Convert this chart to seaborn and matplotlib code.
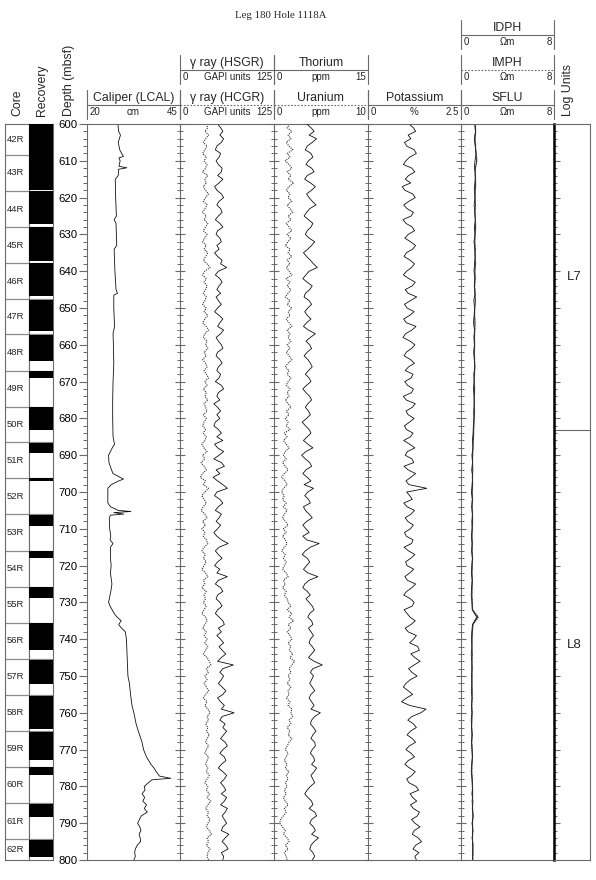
import numpy as np
import matplotlib
matplotlib.use("Agg")
import matplotlib.pyplot as plt
from matplotlib.lines import Line2D
from matplotlib.ticker import MultipleLocator
import seaborn as sns

# ---------------- data ----------------
core_names = ['42R', '43R', '44R', '45R', '46R', '47R', '48R', '49R', '50R', '51R', '52R',
              '53R', '54R', '55R', '56R', '57R', '58R', '59R', '60R', '61R', '62R']
core_tops = [598.6, 608.4, 618.2, 628.0, 637.8, 647.6, 657.2, 667.0, 676.8, 686.5, 696.3,
             706.1, 716.0, 725.7, 735.5, 745.3, 755.1, 764.9, 774.6, 784.6, 794.4]
core_bottoms = core_tops[1:] + [804.2]
rec_tops = [598.6, 608.4, 618.3, 628.1, 637.9, 647.7, 657.3, 667.1, 676.9, 686.6, 696.3,
            706.3, 716.1, 725.8, 735.6, 745.6, 755.5, 765.2, 774.8, 784.7, 794.5]
rec_bottoms = [608.4, 618.0, 627.3, 637.1, 646.8, 656.3, 664.4, 668.9, 683.2, 689.5, 697.1,
               709.2, 717.8, 728.9, 742.9, 752.2, 764.5, 772.8, 777.0, 788.4, 799.3]

unit_names = ['L7', 'L8']
unit_bounds = [600.0, 683.2, 800.0]

# caliper (cm), irregular depth points
cal_depth = [600, 602, 603, 605, 607, 608, 608.8, 609.2, 610, 611.5, 611.9, 612.3, 614, 615,
             620, 625, 626, 627, 630, 633, 634, 640, 645, 646, 646.5, 650, 655, 657, 660,
             665, 670, 675, 680, 685, 687, 688, 690, 692, 694, 695, 696.5, 697, 698, 699,
             700, 703, 704, 705, 705.3, 705.6, 706, 706.3, 707, 710, 712, 713, 714, 715,
             718, 720, 722, 725, 727, 730, 731, 733, 734, 735, 736, 737, 738, 740, 745,
             750, 752, 755, 758, 760, 763, 765, 768, 770, 772, 774, 775, 776, 777.2, 777.8,
             778.2, 779, 780, 781, 782, 783, 784, 785, 786, 787, 788, 789, 790, 791, 792,
             793, 794, 795, 796, 797, 798, 799, 800]
cal_val = [28.3, 28.5, 29.0, 28.4, 28.8, 29.3, 29.8, 28.6, 28.9, 28.6, 30.7, 28.5, 28.4, 27.6,
           27.7, 27.9, 27.3, 27.8, 27.9, 28.0, 27.3, 27.5, 27.8, 28.2, 27.2, 27.2, 27.4, 27.0,
           27.1, 27.2, 27.0, 26.9, 26.9, 27.0, 27.4, 26.8, 25.8, 25.9, 26.6, 27.0, 29.8, 28.5,
           26.5, 25.6, 25.6, 25.6, 26.3, 28.4, 31.8, 27.2, 29.9, 26.3, 26.0, 26.1, 26.4, 26.2,
           27.0, 26.3, 26.3, 26.5, 26.3, 26.7, 26.4, 25.8, 26.2, 27.3, 28.1, 29.2, 28.5, 29.3,
           30.3, 30.6, 30.8, 31.0, 31.4, 31.7, 32.1, 32.6, 33.2, 33.8, 34.8, 35.2, 36.0, 37.2,
           38.0, 38.6, 39.5, 42.5, 37.5, 36.5, 35.4, 35.6, 34.8, 35.5, 35.0, 36.0, 35.4, 36.2,
           34.6, 34.1, 33.6, 34.2, 34.5, 34.0, 34.3, 34.4, 33.5, 33.0, 32.8, 33.0, 32.6]

# 1 m sampled logs, 600 ... 800 mbsf
depth_1m = list(range(600, 801))
hsgr = [50, 54, 57, 53, 58, 55, 49, 47, 54, 52,
        48, 51, 56, 55, 50, 57, 52, 46, 49, 55,
        58, 52, 49, 54, 56, 51, 47, 53, 57, 50,
        48, 53, 55, 49, 52, 46, 50, 56, 54, 62,
        51, 47, 53, 56, 52, 49, 54, 48, 51, 55,
        50, 46, 52, 57, 53, 50, 58, 54, 48, 51,
        55, 57, 50, 48, 53, 56, 51, 49, 54, 52,
        47, 55, 58, 51, 49, 53, 45, 50, 54, 49,
        53, 47, 45, 51, 55, 49, 57, 46, 50, 58,
        52, 45, 55, 59, 48, 53, 44, 50, 57, 63,
        49, 46, 53, 57, 51, 47, 55, 52, 48, 54,
        50, 45, 49, 55, 64, 52, 47, 51, 56, 50,
        46, 53, 49, 63, 51, 47, 54, 57, 50, 48,
        53, 56, 50, 47, 52, 57, 59, 51, 55, 49,
        54, 58, 52, 56, 61, 55, 50, 71, 57, 53,
        58, 55, 51, 56, 61, 57, 50, 54, 59, 55,
        72, 56, 53, 60, 57, 62, 58, 54, 60, 63,
        57, 53, 59, 61, 55, 51, 57, 62, 59, 54,
        58, 61, 55, 62, 59, 54, 63, 60, 56, 59,
        62, 57, 55, 65, 60, 56, 61, 64, 55, 58,
        57]
hcgr = [35, 37, 33, 38, 34, 31, 36, 33, 30, 35,
        32, 36, 34, 30, 37, 33, 35, 31, 34, 38,
        34, 31, 36, 33, 30, 35, 32, 37, 34, 31,
        36, 33, 30, 35, 32, 37, 34, 31, 36, 40,
        33, 30, 35, 32, 36, 34, 31, 35, 33, 30,
        35, 32, 37, 33, 30, 35, 38, 33, 31, 36,
        34, 37, 32, 35, 30, 34, 36, 32, 35, 38,
        33, 36, 31, 35, 33, 37, 32, 34, 36, 31,
        35, 32, 30, 34, 31, 35, 33, 29, 32, 36,
        30, 33, 28, 32, 35, 30, 27, 34, 31, 38,
        33, 29, 32, 35, 31, 28, 33, 36, 30, 34,
        29, 33, 31, 35, 37, 32, 29, 34, 31, 35,
        32, 29, 34, 37, 31, 33, 29, 35, 32, 34,
        31, 35, 32, 29, 34, 36, 33, 30, 35, 32,
        36, 33, 37, 34, 31, 36, 39, 41, 35, 38,
        33, 36, 32, 35, 38, 34, 31, 36, 33, 37,
        40, 36, 38, 34, 37, 35, 39, 36, 34, 38,
        35, 33, 38, 36, 34, 37, 35, 39, 36, 33,
        37, 35, 39, 36, 41, 37, 34, 38, 36, 40,
        37, 35, 39, 42, 36, 38, 35, 40, 37, 36,
        38]
thorium = [5.2, 5.9, 6.4, 5.6, 6.8, 6.1, 5.3, 5.0, 5.9, 6.2,
           5.5, 5.1, 6.0, 6.4, 5.3, 4.9, 5.8, 6.6, 6.0, 5.2,
           5.6, 6.1, 6.7, 5.7, 5.2, 4.8, 5.5, 6.2, 5.9, 5.3,
           5.0, 5.6, 6.5, 6.0, 5.4, 4.7, 5.2, 5.8, 6.3, 6.9,
           5.6, 5.1, 4.6, 5.3, 6.1, 5.7, 5.0, 4.8, 5.6, 6.0,
           5.4, 4.9, 5.3, 5.9, 5.2, 4.7, 5.5, 6.6, 5.8, 5.1,
           5.7, 6.0, 5.3, 4.8, 5.4, 5.8, 6.1, 5.5, 5.0, 5.6,
           5.9, 5.2, 4.6, 5.1, 5.7, 6.0, 5.4, 5.0, 5.5, 5.8,
           5.2, 4.5, 5.0, 5.6, 5.9, 5.3, 4.7, 5.4, 6.2, 5.1,
           4.4, 5.0, 5.7, 6.0, 5.1, 4.6, 5.3, 5.9, 4.8, 6.3,
           5.4, 4.9, 5.5, 5.8, 4.7, 5.0, 5.6, 6.1, 5.2, 4.6,
           5.1, 5.6, 4.6, 5.2, 7.2, 5.8, 5.0, 4.5, 5.3, 5.7,
           5.2, 4.7, 5.4, 7.0, 5.6, 4.9, 4.6, 5.3, 5.8, 5.1,
           5.6, 6.1, 6.4, 5.7, 5.4, 6.0, 6.2, 5.5, 5.9, 6.3,
           5.8, 5.6, 6.1, 6.5, 6.0, 5.5, 6.4, 7.7, 6.2, 5.8,
           6.3, 6.0, 5.7, 6.1, 6.5, 5.9, 5.6, 6.0, 6.4, 5.9,
           7.4, 6.5, 6.0, 5.8, 6.3, 6.7, 6.2, 5.9, 6.5, 6.6,
           6.1, 5.8, 6.3, 6.5, 6.0, 6.8, 6.4, 5.9, 6.2, 6.5,
           5.8, 5.3, 4.9, 5.4, 6.0, 6.2, 5.6, 6.5, 6.8, 6.0,
           5.7, 6.3, 6.6, 6.0, 7.1, 6.4, 5.9, 5.7, 6.2, 6.5,
           6.1]
uranium = [1.7, 1.4, 1.9, 1.5, 1.8, 1.3, 1.6, 2.0, 1.4, 1.7,
           1.2, 1.6, 1.9, 1.4, 1.8, 1.5, 2.1, 1.6, 1.3, 1.7,
           1.5, 1.9, 1.4, 1.7, 2.0, 1.5, 1.8, 1.3, 1.6, 1.9,
           1.4, 1.8, 1.5, 1.2, 1.7, 1.5, 1.9, 1.4, 1.7, 1.3,
           1.6, 1.9, 1.3, 1.7, 1.4, 1.8, 1.5, 1.2, 1.7, 1.4,
           1.9, 1.5, 1.7, 1.3, 1.6, 1.9, 1.4, 1.7, 1.5, 1.8,
           1.4, 1.7, 1.3, 1.6, 1.9, 1.5, 1.2, 1.6, 1.4, 1.8,
           1.5, 1.3, 1.7, 1.4, 1.6, 1.2, 1.5, 1.8, 1.3, 1.6,
           1.2, 1.5, 1.3, 1.7, 1.1, 1.4, 1.0, 1.3, 1.6, 1.2,
           1.0, 1.3, 0.9, 1.2, 1.5, 1.1, 0.8, 1.2, 1.4, 1.0,
           0.8, 1.1, 0.9, 1.3, 1.0, 1.4, 1.1, 0.9, 1.2, 1.5,
           1.0, 1.3, 0.9, 1.2, 1.4, 1.1, 0.8, 1.2, 1.0, 1.3,
           1.1, 0.9, 1.3, 1.5, 1.0, 1.2, 0.9, 1.3, 1.1, 1.4,
           1.5, 1.8, 1.4, 1.9, 1.6, 2.1, 1.5, 1.8, 1.4, 1.7,
           1.9, 1.5, 1.8, 1.6, 2.0, 1.7, 2.2, 1.9, 1.6, 1.8,
           1.5, 1.7, 1.4, 1.8, 1.5, 1.6, 1.3, 1.7, 1.5, 1.9,
           1.8, 2.0, 1.6, 1.8, 1.4, 1.7, 1.5, 1.9, 1.6, 1.4,
           1.2, 1.5, 1.3, 1.1, 1.4, 1.2, 1.6, 1.3, 1.5, 1.2,
           1.4, 1.1, 1.3, 1.0, 1.2, 1.5, 1.1, 1.3, 1.0, 0.7,
           0.6, 0.9, 1.2, 1.0, 1.4, 1.6, 1.2, 1.5, 1.1, 1.3,
           1.4]
potassium = [1.10, 1.22, 1.28, 1.08, 1.15, 0.98, 1.04, 1.24, 1.30, 1.12,
             1.02, 0.95, 1.18, 1.26, 1.09, 1.00, 1.15, 0.92, 0.99, 1.20,
             1.27, 1.10, 0.96, 1.05, 1.22, 1.16, 0.94, 1.02, 1.19, 1.25,
             1.08, 0.99, 1.14, 1.28, 1.20, 1.03, 0.97, 1.13, 1.25, 1.17,
             1.04, 0.95, 1.10, 1.27, 1.19, 1.00, 1.08, 1.31, 1.14, 0.98,
             1.05, 1.24, 1.12, 0.96, 1.03, 1.29, 1.18, 1.01, 0.94, 1.13,
             1.26, 1.17, 1.03, 0.97, 1.14, 1.25, 1.09, 1.00, 1.21, 1.16,
             0.99, 1.06, 1.22, 1.17, 0.95, 1.03, 1.27, 1.19, 1.02, 1.08,
             1.24, 1.12, 0.98, 1.03, 1.21, 1.14, 0.96, 1.12, 1.26, 1.06,
             1.00, 1.18, 1.23, 0.97, 1.08, 1.28, 1.15, 1.02, 1.10, 1.58,
             1.04, 1.12, 1.19, 0.96, 1.05, 1.25, 1.16, 1.00, 1.07, 1.22,
             1.14, 0.98, 1.03, 1.21, 1.17, 0.97, 1.09, 1.26, 1.15, 1.01,
             1.05, 1.23, 1.12, 0.99, 1.06, 1.28, 1.18, 1.04, 0.96, 1.14,
             1.24, 1.19, 0.97, 1.05, 1.13, 1.27, 1.16, 1.00, 1.08, 1.30,
             1.22, 1.12, 1.34, 1.38, 1.15, 1.26, 1.40, 1.24, 1.09, 1.18,
             1.32, 1.14, 1.02, 0.95, 1.08, 1.20, 1.03, 0.90, 1.12, 1.56,
             1.42, 1.18, 1.07, 1.22, 1.30, 1.14, 1.05, 1.19, 1.28, 1.11,
             1.02, 1.16, 1.25, 1.08, 0.99, 1.12, 1.27, 1.18, 1.04, 1.10,
             1.29, 1.36, 1.13, 1.20, 1.31, 1.14, 1.22, 1.38, 1.33, 1.17,
             1.26, 1.40, 1.24, 1.19, 1.35, 1.44, 1.28, 1.21, 1.37, 1.26,
             1.30]

# resistivity, 2 m sampled, 600 ... 800 mbsf
depth_2m = list(range(600, 801, 2))
idph = [1.22, 1.25, 1.20, 1.24, 1.28, 1.35, 1.23, 1.21, 1.26, 1.22,
        1.20, 1.23, 1.19, 1.22, 1.25, 1.21, 1.18, 1.22, 1.20, 1.24,
        1.19, 1.21, 1.17, 1.20, 1.23, 1.18, 1.16, 1.20, 1.18, 1.15,
        1.17, 1.14, 1.16, 1.19, 1.15, 1.13, 1.16, 1.14, 1.12, 1.15,
        1.13, 1.10, 1.08, 1.05, 1.02, 1.00, 0.98, 1.01, 0.97, 0.99,
        0.96, 0.98, 0.95, 0.97, 0.99, 0.96, 0.94, 0.97, 0.95, 0.98,
        0.96, 0.94, 0.97, 0.95, 0.93, 0.96, 0.98, 1.45, 1.02, 0.97,
        0.95, 0.93, 0.96, 0.94, 0.92, 0.95, 0.93, 0.96, 0.94, 0.92,
        0.95, 0.93, 0.91, 0.94, 0.92, 0.95, 0.97, 0.94, 0.92, 0.95,
        0.97, 1.00, 0.96, 0.99, 1.02, 0.98, 1.01, 0.97, 1.00, 1.03,
        0.99]
imph = [1.25, 1.27, 1.22, 1.26, 1.31, 1.38, 1.25, 1.23, 1.28, 1.24,
        1.22, 1.25, 1.21, 1.24, 1.27, 1.23, 1.20, 1.24, 1.22, 1.26,
        1.21, 1.23, 1.19, 1.22, 1.25, 1.20, 1.18, 1.22, 1.20, 1.17,
        1.19, 1.16, 1.18, 1.21, 1.17, 1.15, 1.18, 1.16, 1.14, 1.17,
        1.15, 1.12, 1.10, 1.07, 1.04, 1.02, 1.00, 1.03, 0.99, 1.01,
        0.98, 1.00, 0.97, 0.99, 1.01, 0.98, 0.96, 0.99, 0.97, 1.00,
        0.98, 0.96, 0.99, 0.97, 0.95, 0.98, 1.00, 1.50, 1.05, 0.99,
        0.97, 0.95, 0.98, 0.96, 0.94, 0.97, 0.95, 0.98, 0.96, 0.94,
        0.97, 0.95, 0.93, 0.96, 0.94, 0.97, 0.99, 0.96, 0.94, 0.97,
        0.99, 1.02, 0.98, 1.01, 1.04, 1.00, 1.03, 0.99, 1.02, 1.05,
        1.01]
sflu = [1.18, 1.24, 1.15, 1.22, 1.30, 1.20, 1.16, 1.25, 1.19, 1.14,
        1.21, 1.13, 1.19, 1.24, 1.15, 1.20, 1.12, 1.18, 1.23, 1.16,
        1.12, 1.19, 1.14, 1.21, 1.10, 1.17, 1.13, 1.08, 1.16, 1.11,
        1.15, 1.09, 1.14, 1.18, 1.10, 1.13, 1.07, 1.12, 1.16, 1.09,
        1.11, 1.06, 1.04, 0.98, 1.03, 0.94, 0.99, 0.92, 1.00, 0.95,
        0.90, 0.97, 0.92, 0.99, 0.93, 0.96, 0.89, 0.95, 0.91, 0.98,
        0.93, 0.89, 0.96, 0.91, 0.88, 0.94, 0.97, 1.35, 0.99, 0.93,
        0.90, 0.95, 0.88, 0.93, 0.97, 0.90, 0.94, 0.89, 0.96, 0.91,
        0.94, 0.88, 0.92, 0.97, 0.90, 0.95, 0.99, 0.92, 0.88, 0.96,
        1.00, 0.94, 1.03, 0.97, 1.05, 0.95, 1.02, 0.96, 1.04, 0.99,
        1.02]

# header blocks: (track, row, title, lo, unit, hi, line style)
headers = [
    (0, 0, 'Caliper (LCAL)', '20', 'cm', '45', '-'),
    (1, 1, '\u03b3 ray (HSGR)', '0', 'GAPI units', '125', '-'),
    (1, 0, '\u03b3 ray (HCGR)', '0', 'GAPI units', '125', ':'),
    (2, 1, 'Thorium', '0', 'ppm', '15', '-'),
    (2, 0, 'Uranium', '0', 'ppm', '10', ':'),
    (3, 0, 'Potassium', '0', '%', '2.5', '-'),
    (4, 2, 'IDPH', '0', '\u03a9m', '8', '-'),
    (4, 1, 'IMPH', '0', '\u03a9m', '8', ':'),
    (4, 0, 'SFLU', '0', '\u03a9m', '8', '-'),
]

# ---------------- layout ----------------
sns.set_style("white")
plt.rcParams['font.family'] = ['Liberation Sans', 'DejaVu Sans']

W, H = 596, 880
TOP, BOT = 124, 860
GRID = '#6a6a6a'
edges = [87, 180, 274, 368, 461, 554]
row_y = [98, 63, 28]

fig = plt.figure(figsize=(W / 100, H / 100), dpi=100)


def fx(x):
    return x / W


def fy(y):
    return 1 - y / H


def px_rect(x0, x1, y0=TOP, y1=BOT):
    return [x0 / W, 1 - y1 / H, (x1 - x0) / W, (y1 - y0) / H]


def style_spines(ax, right=False):
    for s in ['left', 'top', 'bottom', 'right']:
        ax.spines[s].set_visible(True)
        ax.spines[s].set_color(GRID)
        ax.spines[s].set_linewidth(0.8)
    ax.spines['right'].set_visible(right)


def track(i):
    ax = fig.add_axes(px_rect(edges[i], edges[i + 1]))
    ax.set_facecolor('none')
    return ax


def finish(ax, xlim):
    ax.set_ylim(800, 600)
    ax.set_xlim(*xlim)
    ax.set_xticks([])
    ax.set_xlabel('')
    ax.set_ylabel('')
    ax.yaxis.set_major_locator(MultipleLocator(10))
    ax.yaxis.set_minor_locator(MultipleLocator(2))
    style_spines(ax)
    ax.tick_params(axis='y', which='major', direction='inout', length=7, width=0.8,
                   color=GRID, labelleft=False, left=True)
    ax.tick_params(axis='y', which='minor', direction='inout', length=4, width=0.7,
                   color=GRID, left=True)


solid = dict(color='#111111', lw=0.6)
dotted = dict(color='#333333', lw=0.8, linestyle=(0, (1, 1)))

# caliper
ax_cal = track(0)
sns.lineplot(x=cal_val, y=cal_depth, orient='y', sort=False, estimator=None, ax=ax_cal, **solid)
finish(ax_cal, (20, 45))
ax_cal.tick_params(axis='y', which='major', direction='out', length=5.5, labelleft=True,
                   labelsize=8.2, pad=1.5, labelcolor='black')
ax_cal.tick_params(axis='y', which='minor', direction='out', length=3)

# gamma ray
ax_gr = track(1)
sns.lineplot(x=hcgr, y=depth_1m, orient='y', sort=False, estimator=None, ax=ax_gr, **dotted)
sns.lineplot(x=hsgr, y=depth_1m, orient='y', sort=False, estimator=None, ax=ax_gr, **solid)
finish(ax_gr, (0, 125))

# thorium / uranium
ax_u = track(2)
sns.lineplot(x=uranium, y=depth_1m, orient='y', sort=False, estimator=None, ax=ax_u, **dotted)
finish(ax_u, (0, 10))
ax_th = ax_u.twiny()
sns.lineplot(x=thorium, y=depth_1m, orient='y', sort=False, estimator=None, ax=ax_th, **solid)
ax_th.set_xlim(0, 15)
ax_th.set_ylim(800, 600)
ax_th.axis('off')

# potassium
ax_k = track(3)
sns.lineplot(x=potassium, y=depth_1m, orient='y', sort=False, estimator=None, ax=ax_k, **solid)
finish(ax_k, (0, 2.5))

# resistivity
ax_res = track(4)
sns.lineplot(x=sflu, y=depth_2m, orient='y', sort=False, estimator=None, ax=ax_res, **solid)
sns.lineplot(x=imph, y=depth_2m, orient='y', sort=False, estimator=None, ax=ax_res,
             color='#555555', lw=0.8, linestyle=(0, (1, 1)))
sns.lineplot(x=idph, y=depth_2m, orient='y', sort=False, estimator=None, ax=ax_res,
             color='#222222', lw=0.6)
finish(ax_res, (0, 8))

# log units column
ax_lu = fig.add_axes(px_rect(554, 590))
for b in unit_bounds[1:-1]:
    ax_lu.axhline(b, color=GRID, lw=0.8)
for name, a, b in zip(unit_names, unit_bounds[:-1], unit_bounds[1:]):
    ax_lu.text(0.55, (a + b) / 2, name, ha='center', va='center', fontsize=9.5)
ax_lu.set_ylim(800, 600)
ax_lu.set_xlim(0, 1)
ax_lu.set_xticks([])
style_spines(ax_lu, right=True)
ax_lu.spines['left'].set_color('black')
ax_lu.spines['left'].set_linewidth(1.8)
ax_lu.yaxis.set_major_locator(MultipleLocator(10))
ax_lu.yaxis.set_minor_locator(MultipleLocator(2))
ax_lu.tick_params(axis='y', which='major', direction='in', length=4.5, width=0.8, color=GRID,
                  labelleft=False, left=True)
ax_lu.tick_params(axis='y', which='minor', direction='in', length=2.5, width=0.7, color=GRID,
                  left=True)

# core and recovery columns
ax_core = fig.add_axes(px_rect(5, 29))
ax_rec = fig.add_axes(px_rect(29, 53))
ax_rec.barh(y=rec_tops, width=1, height=np.array(rec_bottoms) - np.array(rec_tops),
            align='edge', color='black', edgecolor='none', linewidth=0, zorder=3)
for ax in (ax_core, ax_rec):
    for t in core_tops[1:]:
        ax.axhline(t, color='#8a8a8a', lw=0.9, zorder=1)
    ax.set_ylim(800, 600)
    ax.set_xlim(0, 1)
    ax.set_xticks([])
    ax.set_yticks([])
    style_spines(ax, right=True)
for name, a, b in zip(core_names, core_tops, core_bottoms):
    mid = (max(a, 600) + min(b, 800)) / 2
    ax_core.text(0.07, mid, name, ha='left', va='center', fontsize=6.8)

# ---------------- header ----------------
for i, row, title, lo, unit, hi, ls in headers:
    x0, x1 = edges[i], edges[i + 1]
    T = row_y[row]
    for x in (x0, x1):
        fig.add_artist(Line2D([fx(x), fx(x)], [fy(T - 8), fy(T + 21)], color=GRID, lw=0.8))
    fig.add_artist(Line2D([fx(x0), fx(x1)], [fy(T + 7), fy(T + 7)], color=GRID, lw=0.8,
                          linestyle=ls if ls == '-' else (0, (1.5, 1.5))))
    fig.text(fx((x0 + x1) / 2), fy(T), title, ha='center', va='center', fontsize=8.8)
    fig.text(fx(x0 + 3), fy(T + 14), lo, ha='left', va='center', fontsize=7)
    fig.text(fx((x0 + x1) / 2), fy(T + 14), unit, ha='center', va='center', fontsize=7)
    fig.text(fx(x1 - 2), fy(T + 14), hi, ha='right', va='center', fontsize=7)

for x, label in [(17, 'Core'), (42, 'Recovery'), (69, 'Depth (mbsf)'), (568, 'Log Units')]:
    fig.text(fx(x), fy(116), label, rotation=90, ha='center', va='bottom', fontsize=8.8)

fig.text(fx(281), fy(15), 'Leg 180 Hole 1118A', ha='center', va='center', fontsize=7.8,
         family=['Liberation Serif', 'DejaVu Serif'])

fig.savefig('out.png', dpi=100)
